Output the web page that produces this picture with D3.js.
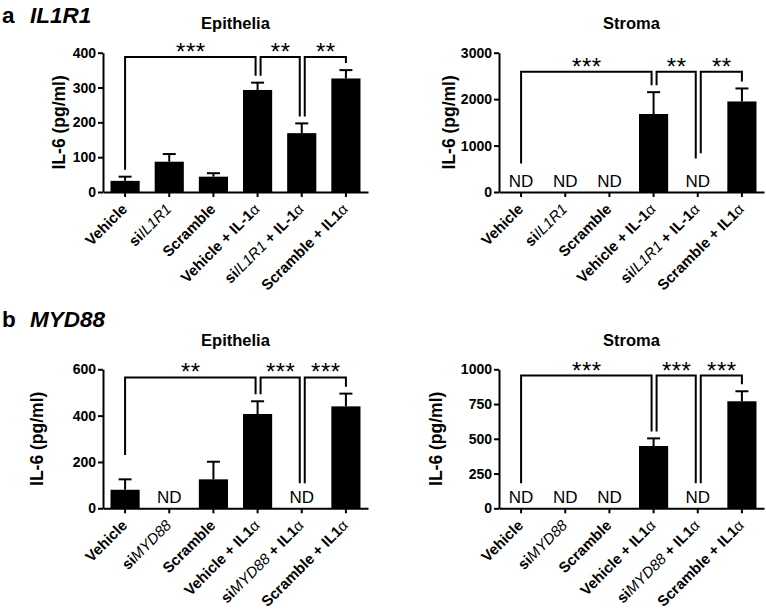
<!DOCTYPE html>
<html><head><meta charset="utf-8">
<script src="https://cdn.jsdelivr.net/npm/d3@7"></script>
<style>body{margin:0;background:#fff} svg{display:block}</style>
</head><body>
<svg id="chart" width="766" height="609"></svg>
<script>
// ---------- data ----------
const catsA = ["Vehicle", "siIL1R1", "Scramble", "Vehicle + IL-1α", "siIL1R1 + IL-1α", "Scramble + IL1α"];
const catsB = ["Vehicle", "siMYD88", "Scramble", "Vehicle + IL1α", "siMYD88 + IL1α", "Scramble + IL1α"];

// null = ND (not detected)
const aEpiMean = [32, 87, 44, 293, 169, 326];
const aEpiErr  = [12, 22, 10, 21, 28, 24];
const aStrMean = [null, null, null, 1680, null, 1950];
const aStrErr  = [null, null, null, 470, null, 280];
const bEpiMean = [80, null, 125, 407, null, 440];
const bEpiErr  = [45, null, 76, 55, null, 55];
const bStrMean = [null, null, null, 448, null, 770];
const bStrErr  = [null, null, null, 55, null, 72];

const aEpiTicks = [0, 100, 200, 300, 400];
const aStrTicks = [0, 1000, 2000, 3000];
const bEpiTicks = [0, 200, 400, 600];
const bStrTicks = [0, 250, 500, 750, 1000];

// significance brackets: [from, to, label, leftEnd (pg/ml or null), rightEnd]
const aEpiBrackets = [[0, 3, "***", null, null], [3, 4, "**", null, null], [4, 5, "**", null, null]];
const aStrBrackets = [[0, 3, "***", 616, null], [3, 4, "**", null, 724], [4, 5, "**", 832, null]];
const bEpiBrackets = [[0, 3, "**", 230, null], [3, 4, "***", null, 108], [4, 5, "***", 108, null]];
const bStrBrackets = [[0, 3, "***", 180, null], [3, 4, "***", null, 180], [4, 5, "***", 180, null]];
const aEpiLevel = 388, aStrLevel = 2588, bEpiLevel = 565, bStrLevel = 955;

// ---------- drawing ----------
const svg = d3.select("#chart");
const FONT = "'Liberation Sans', Arial, Helvetica, sans-serif";
svg.attr("font-family", FONT);

function richLabel(textSel, str) {
  const parts = str.split(/(IL1R1|MYD88|α)/).filter(s => s.length);
  parts.forEach(p => {
    const t = textSel.append("tspan").text(p);
    if (p === "IL1R1" || p === "MYD88") t.attr("font-style", "italic").attr("font-weight", "normal");
    else if (p === "α") t.attr("font-weight", "normal");
    else t.attr("font-weight", "bold");
  });
}

function drawPanel(cfg) {
  const g = svg.append("g");
  const x = d3.scaleBand().domain(d3.range(cfg.cats.length)).range([cfg.x0, cfg.x1]).paddingInner(0.34).paddingOuter(0.17);
  const y = d3.scaleLinear().domain([0, cfg.ticks[cfg.ticks.length - 1]]).range([cfg.yBot, cfg.yTop]);
  const cx = i => x(i) + x.bandwidth() / 2;

  // bars
  cfg.mean.forEach((m, i) => {
    if (m === null) {
      g.append("text").attr("x", cx(i)).attr("y", cfg.yBot - 5).attr("text-anchor", "middle")
        .attr("font-size", 17).attr("fill", "#000").text("ND");
      return;
    }
    g.append("rect").attr("x", x(i)).attr("y", y(m)).attr("width", x.bandwidth())
      .attr("height", y(0) - y(m)).attr("fill", "#000");
    const top = y(m + cfg.err[i]);
    g.append("line").attr("x1", cx(i)).attr("x2", cx(i)).attr("y1", y(m)).attr("y2", top)
      .attr("stroke", "#000").attr("stroke-width", 2);
    g.append("line").attr("x1", cx(i) - 6.5).attr("x2", cx(i) + 6.5).attr("y1", top).attr("y2", top)
      .attr("stroke", "#000").attr("stroke-width", 2);
  });

  // axes
  const ya = g.append("g").attr("transform", `translate(${cfg.x0},0)`)
    .call(d3.axisLeft(y).tickValues(cfg.ticks).tickFormat(d3.format("d")).tickSize(5).tickSizeOuter(0).tickPadding(2));
  ya.select(".domain").attr("stroke-width", 2);
  ya.selectAll(".tick line").attr("stroke-width", 2);
  ya.selectAll(".tick text").attr("font-family", FONT).attr("font-size", 14).attr("font-weight", "bold").attr("fill", "#000");

  const xa = g.append("g").attr("transform", `translate(0,${cfg.yBot})`)
    .call(d3.axisBottom(x).tickSize(5).tickSizeOuter(0).tickFormat(""));
  xa.select(".domain").attr("stroke-width", 2);
  xa.selectAll(".tick line").attr("stroke-width", 2);

  // category labels
  cfg.cats.forEach((c, i) => {
    const t = g.append("text").attr("text-anchor", "end").attr("font-size", 15).attr("fill", "#000")
      .attr("transform", `translate(${cx(i) + 3},${cfg.yBot + 18}) rotate(-45)`);
    richLabel(t, c);
  });

  // y label
  g.append("text").attr("transform", `translate(${cfg.ylabX},${(cfg.yTop + cfg.yBot) / 2}) rotate(-90)`)
    .attr("text-anchor", "middle").attr("font-size", 17.5).attr("font-weight", "bold").text("IL-6 (pg/ml)");

  // title
  g.append("text").attr("x", (cfg.x0 + cfg.x1) / 2).attr("y", cfg.titleY).attr("text-anchor", "middle")
    .attr("font-size", 16.5).attr("font-weight", "bold").text(cfg.title);

  // brackets
  const starts = cfg.brackets.map(b => b[0]);
  const ends = cfg.brackets.map(b => b[1]);
  const endY = (i, v) => {
    if (v !== null) return y(v);
    if (cfg.mean[i] === null) return y(0) - 28;
    return y(cfg.mean[i] + cfg.err[i]) - 7;
  };
  const ly = y(cfg.level);
  cfg.brackets.forEach(([a, b, lab, le, re]) => {
    const lx = cx(a) + (ends.includes(a) ? 3 : 0);
    const rx = cx(b) - (starts.includes(b) ? 2 : 0);
    g.append("path").attr("d", `M${lx},${endY(a, le)}V${ly}H${rx}V${endY(b, re)}`)
      .attr("fill", "none").attr("stroke", "#000").attr("stroke-width", 2);
    g.append("text").attr("x", (lx + rx) / 2 + 0.5).attr("y", ly + 3).attr("text-anchor", "middle")
      .attr("font-size", 24).attr("letter-spacing", 0.5).attr("fill", "#000").text(lab);
  });
}

drawPanel({cats: catsA, mean: aEpiMean, err: aEpiErr, ticks: aEpiTicks, brackets: aEpiBrackets, level: aEpiLevel,
  x0: 103, x1: 368, yTop: 52.7, yBot: 192, ylabX: 65, titleY: 28.5, title: "Epithelia"});
drawPanel({cats: catsA, mean: aStrMean, err: aStrErr, ticks: aStrTicks, brackets: aStrBrackets, level: aStrLevel,
  x0: 499, x1: 764, yTop: 52.7, yBot: 192, ylabX: 455, titleY: 28.5, title: "Stroma"});
drawPanel({cats: catsB, mean: bEpiMean, err: bEpiErr, ticks: bEpiTicks, brackets: bEpiBrackets, level: bEpiLevel,
  x0: 103, x1: 368, yTop: 369.3, yBot: 508.3, ylabX: 43, titleY: 346, title: "Epithelia"});
drawPanel({cats: catsB, mean: bStrMean, err: bStrErr, ticks: bStrTicks, brackets: bStrBrackets, level: bStrLevel,
  x0: 499, x1: 764, yTop: 369.3, yBot: 508.3, ylabX: 441.5, titleY: 346, title: "Stroma"});

// panel letters
[["a", "IL1R1", 23], ["b", "MYD88", 327]].forEach(([l, gene, by]) => {
  svg.append("text").attr("x", 2).attr("y", by).attr("font-size", 22.5).attr("font-weight", "bold").text(l);
  svg.append("text").attr("x", 30).attr("y", by).attr("font-size", 22.5).attr("font-weight", "bold")
    .attr("font-style", "italic").text(gene);
});
</script>
</body></html>
